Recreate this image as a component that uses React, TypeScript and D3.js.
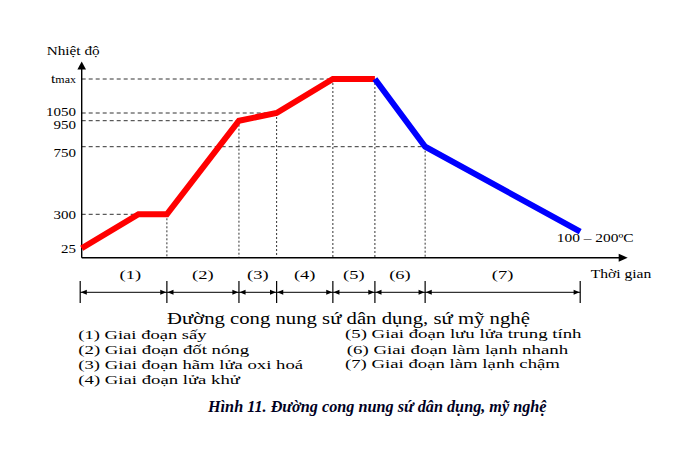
import React, { useLayoutEffect, useRef } from "react";
import * as d3 from "d3";

// ---- data ----
const TIME = [0, 10.4, 15.6, 28.8, 35.7, 46, 53.7, 62.9, 91.3];
const TEMP = [25, 300, 300, 950, 1050, 1300, 1300, 750, 160];
const HEAT_IDX = [0, 1, 2, 3, 4, 5, 6];
const COOL_IDX = [6, 7, 8];
const PHASE_BOUNDS = [0, 15.6, 28.8, 35.7, 46, 53.7, 62.9, 91.3];
const PHASE_LABELS = ["(1)", "(2)", "(3)", "(4)", "(5)", "(6)", "(7)"];
const TICK_VALUES = [25, 300, 750, 950, 1050, 1300];
const TICK_LABELS = ["25", "300", "750", "950", "1050", "tmax"];
const LEGEND_LEFT = [
  "(1) Giai đoạn sấy",
  "(2) Giai đoạn đốt nóng",
  "(3) Giai đoạn hãm lửa oxi hoá",
  "(4) Giai đoạn lửa khử",
];
const LEGEND_RIGHT = [
  "(5) Giai đoạn lưu lửa trung tính",
  "(6) Giai đoạn làm lạnh nhanh",
  "(7) Giai đoạn làm lạnh chậm",
];
const TITLE = "Đường cong nung sứ dân dụng, sứ mỹ nghệ";
const CAPTION = "Hình 11. Đường cong nung sứ dân dụng, mỹ nghệ";
const END_LABEL = "100 – 200ºC";
const Y_LABEL = "Nhiệt độ";
const X_LABEL = "Thời gian";

// ---- layout (text widths) ----
const W = 695;
const H = 455;
const FONT = "'Liberation Serif', 'Times New Roman', 'DejaVu Serif', serif";
const LEGEND_LEFT_W = [128.4, 171, 225, 161.7];
const LEGEND_RIGHT_W = [236.7, 221.6, 215];
const LEGEND_LEFT_Y = [339.3, 354.3, 369, 384.3];
const LEGEND_RIGHT_Y = [338.3, 354, 368.3];
const LEGEND_RIGHT_X = [345, 346.7, 345];

export default function App() {
  const svgRef = useRef<SVGSVGElement>(null);

  useLayoutEffect(() => {
    const svg = svgRef.current;
    if (!svg) return;
    svg.querySelectorAll<SVGTextElement>("text[data-tw]").forEach((el) => {
      const tw = +(el.getAttribute("data-tw") || 0);
      const w = el.getComputedTextLength();
      if (!w || !tw) return;
      const x = +(el.getAttribute("x") || 0);
      const s = tw / w;
      el.setAttribute("transform", `translate(${x * (1 - s)},0) scale(${s},1)`);
    });
  }, []);

  const x = d3.scaleLinear().domain([0, 100]).range([81.7, 627.7]);
  const y = d3
    .scaleLinear()
    .domain([0, 25, 300, 750, 950, 1050, 1300])
    .range([257.7, 248.3, 214.3, 146.7, 120.7, 113, 79]);

  const x0 = x(0);
  const yAxisY = y(0);
  const axisTop = 61.5;
  const axisRight = x(100);

  const line = d3
    .line<number>()
    .x((i) => x(TIME[i]))
    .y((i) => y(TEMP[i]));

  const tempAt = (t: number) => TEMP[TIME.indexOf(t)];

  const dimY = 292.3;
  const labelNudge: Record<string, number> = { "1050": -1.4, "950": 4, "750": 6.2 };

  return (
    <svg
      ref={svgRef}
      width={W}
      height={H}
      style={{ position: "absolute", left: 0, top: 0, background: "#fff" }}
      fontFamily={FONT}
    >
      <rect width={W} height={H} fill="#fff" />

      {/* horizontal dashed guides */}
      {TICK_VALUES.filter((v) => v !== 25).map((v) => {
        const i = TEMP.indexOf(v);
        return (
          <line
            key={"h" + v}
            x1={x0}
            x2={x(TIME[i])}
            y1={y(v)}
            y2={y(v)}
            stroke="#333"
            strokeWidth={1}
            strokeDasharray="4,3"
          />
        );
      })}

      {/* vertical dotted guides */}
      {PHASE_BOUNDS.slice(1, -1).map((t) => (
        <line
          key={"v" + t}
          x1={x(t)}
          x2={x(t)}
          y1={y(tempAt(t))}
          y2={yAxisY}
          stroke="#333"
          strokeWidth={1}
          strokeDasharray="2,2"
        />
      ))}

      {/* axes */}
      <line x1={x0} x2={x0} y1={yAxisY} y2={axisTop + 7} stroke="#000" strokeWidth={1.4} />
      <path
        d={`M${x0},${axisTop} L${x0 - 4.3},${axisTop + 8} L${x0 + 4.3},${axisTop + 8} Z`}
        fill="#000"
      />
      <line x1={x0} x2={axisRight - 7} y1={yAxisY} y2={yAxisY} stroke="#000" strokeWidth={1.4} />
      <path
        d={`M${axisRight},${yAxisY} L${axisRight - 9},${yAxisY - 4} L${axisRight - 9},${yAxisY + 4} Z`}
        fill="#000"
      />

      {/* curve */}
      <path d={line(HEAT_IDX) || ""} fill="none" stroke="#ff0000" strokeWidth={6} strokeLinejoin="miter" />
      <path d={line(COOL_IDX) || ""} fill="none" stroke="#0000ff" strokeWidth={6} strokeLinejoin="miter" />

      {/* y tick labels */}
      {TICK_VALUES.map((v, k) => {
        const lab = TICK_LABELS[k];
        const yy = y(v) + 4.4 + (labelNudge[lab] || 0);
        return (
          <g key={"t" + v} transform={`translate(76,${yy}) scale(1.2,1)`}>
            {lab === "tmax" ? (
              <text x={0} y={0} textAnchor="end" fontSize={13} fill="#000">
                <tspan>t</tspan>
                <tspan fontSize={10}>max</tspan>
              </text>
            ) : (
              <text x={0} y={0} textAnchor="end" fontSize={12.5} fill="#000">
                {lab}
              </text>
            )}
          </g>
        );
      })}

      <text x={46.7} y={55} fontSize={12.5} data-tw={53} fill="#000">
        {Y_LABEL}
      </text>
      <text x={590.7} y={277.7} fontSize={12.5} data-tw={60.7} fill="#000">
        {X_LABEL}
      </text>
      <text x={556.7} y={242.3} fontSize={12.5} data-tw={77} fill="#000">
        {END_LABEL}
      </text>

      {/* phase labels */}
      {PHASE_LABELS.map((lab, k) => {
        const cx = (x(PHASE_BOUNDS[k]) + x(PHASE_BOUNDS[k + 1])) / 2 + (k === 0 ? 6 : 0);
        return (
          <text key={lab} x={cx - 10.8} y={279.3} fontSize={13} data-tw={21.6} fill="#000">
            {lab}
          </text>
        );
      })}

      {/* dimension line */}
      <line
        x1={x(PHASE_BOUNDS[0]) - 1.5}
        x2={x(PHASE_BOUNDS[PHASE_BOUNDS.length - 1])}
        y1={dimY}
        y2={dimY}
        stroke="#000"
        strokeWidth={1}
      />
      {PHASE_BOUNDS.map((t, k) => {
        const xx = x(t) - (k === 0 ? 1.5 : 0);
        return <line key={"dt" + k} x1={xx} x2={xx} y1={281} y2={303} stroke="#000" strokeWidth={1.2} />;
      })}
      {PHASE_BOUNDS.slice(0, -1).map((t, k) => {
        const a = x(t) - (k === 0 ? 1.5 : 0) + 0.6;
        const b = x(PHASE_BOUNDS[k + 1]) - 0.6;
        return (
          <g key={"da" + k} fill="#000">
            <path d={`M${a},${dimY} L${a + 6},${dimY - 2.5} L${a + 6},${dimY + 2.5} Z`} />
            <path d={`M${b},${dimY} L${b - 6},${dimY - 2.5} L${b - 6},${dimY + 2.5} Z`} />
          </g>
        );
      })}

      {/* title */}
      <text x={167} y={323.8} fontSize={17.5} data-tw={363} fill="#000">
        {TITLE}
      </text>

      {/* legend */}
      {LEGEND_LEFT.map((s, k) => (
        <text key={s} x={78.3} y={LEGEND_LEFT_Y[k]} fontSize={13} data-tw={LEGEND_LEFT_W[k]} fill="#000">
          {s}
        </text>
      ))}
      {LEGEND_RIGHT.map((s, k) => (
        <text
          key={s}
          x={LEGEND_RIGHT_X[k]}
          y={LEGEND_RIGHT_Y[k]}
          fontSize={13}
          data-tw={LEGEND_RIGHT_W[k]}
          fill="#000"
        >
          {s}
        </text>
      ))}

      {/* caption */}
      <text
        x={208}
        y={412}
        fontSize={17}
        fontWeight="bold"
        fontStyle="italic"
        data-tw={338.7}
        fill="#000022"
      >
        {CAPTION}
      </text>
    </svg>
  );
}
